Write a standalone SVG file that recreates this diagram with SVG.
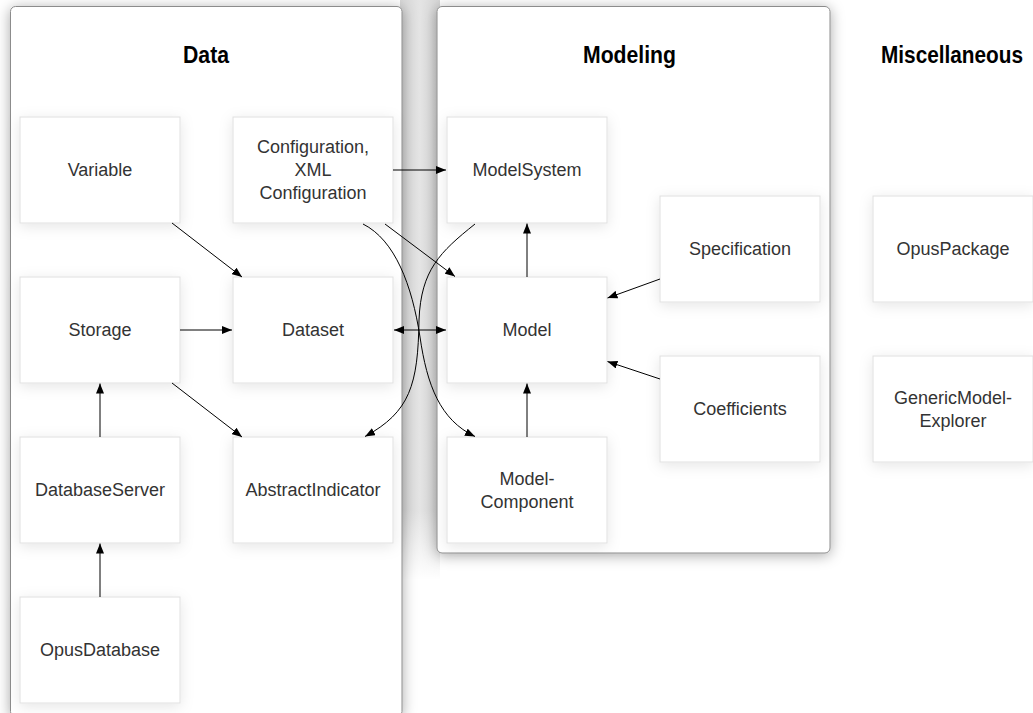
<svg xmlns="http://www.w3.org/2000/svg" width="1033" height="713" viewBox="0 0 1033 713">
  <defs>
    <filter id="panelShadow" x="-20%" y="-20%" width="140%" height="140%">
      <feDropShadow dx="0" dy="2" stdDeviation="7" flood-color="#000" flood-opacity="0.34"/>
    </filter>
    <filter id="boxShadow" x="-20%" y="-20%" width="140%" height="140%">
      <feDropShadow dx="0" dy="3" stdDeviation="7" flood-color="#000" flood-opacity="0.10"/>
    </filter>
    <linearGradient id="gapShade" x1="0" y1="0" x2="1" y2="0">
      <stop offset="0" stop-color="#d6d6d6"/>
      <stop offset="0.5" stop-color="#e4e4e4"/>
      <stop offset="1" stop-color="#d6d6d6"/>
    </linearGradient>
    <linearGradient id="gapFade" x1="0" y1="0" x2="0" y2="1">
      <stop offset="0" stop-color="#fff" stop-opacity="0"/>
      <stop offset="0.88" stop-color="#fff" stop-opacity="0"/>
      <stop offset="1" stop-color="#fff" stop-opacity="1"/>
    </linearGradient>
    <marker id="arrow" viewBox="0 0 10 8" refX="10" refY="4" markerWidth="10" markerHeight="8" markerUnits="userSpaceOnUse" orient="auto-start-reverse">
      <path d="M0,0 L10,4 L0,8 z" fill="#000"/>
    </marker>
    <style>
      .panel { fill: #fff; stroke: #8c8c8c; stroke-width: 1; filter: url(#panelShadow); }
      .box { fill: #fff; stroke: #e0e0e0; stroke-width: 1; filter: url(#boxShadow); }
      .title { font-family: "Liberation Sans", Arial, sans-serif; font-weight: bold; font-size: 23.5px; fill: #000; text-anchor: middle; }
      .label { font-family: "Liberation Sans", Arial, sans-serif; font-size: 18px; fill: #333; text-anchor: middle; }
      .edge { fill: none; stroke: #000; stroke-width: 1; marker-end: url(#arrow); }
      .both { marker-start: url(#arrow); }
    </style>
  </defs>

  <rect width="1033" height="713" fill="#fff"/>

  <!-- shaded channel between the two panels -->
  <rect x="400" y="0" width="40" height="580" fill="url(#gapShade)"/>
  <rect x="400" y="0" width="40" height="580" fill="url(#gapFade)"/>

  <!-- group panels -->
  <g id="panels">
    <rect id="panel-data" class="panel" x="10.5" y="6.5" width="391.5" height="710" rx="5"/>
    <rect id="panel-modeling" class="panel" x="437" y="6.5" width="393" height="546.5" rx="5"/>
  </g>

  <!-- section titles -->
  <g id="titles">
    <text class="title" x="206" y="63" textLength="46" lengthAdjust="spacingAndGlyphs">Data</text>
    <text class="title" x="629.5" y="63" textLength="93" lengthAdjust="spacingAndGlyphs">Modeling</text>
    <text class="title" x="952" y="62.5" textLength="142" lengthAdjust="spacingAndGlyphs">Miscellaneous</text>
  </g>

  <!-- Data column -->
  <g id="node-variable">
    <rect class="box" x="20" y="117" width="160" height="106"/>
    <text class="label" x="100" y="176">Variable</text>
  </g>
  <g id="node-configuration">
    <rect class="box" x="233" y="117" width="160" height="106"/>
    <text class="label" x="313" y="153">Configuration,</text>
    <text class="label" x="313" y="176">XML</text>
    <text class="label" x="313" y="199">Configuration</text>
  </g>
  <g id="node-storage">
    <rect class="box" x="20" y="277" width="160" height="106"/>
    <text class="label" x="100" y="336">Storage</text>
  </g>
  <g id="node-dataset">
    <rect class="box" x="233" y="277" width="160" height="106"/>
    <text class="label" x="313" y="336">Dataset</text>
  </g>
  <g id="node-databaseserver">
    <rect class="box" x="20" y="437" width="160" height="106"/>
    <text class="label" x="100" y="496">DatabaseServer</text>
  </g>
  <g id="node-abstractindicator">
    <rect class="box" x="233" y="437" width="160" height="106"/>
    <text class="label" x="313" y="496">AbstractIndicator</text>
  </g>
  <g id="node-opusdatabase">
    <rect class="box" x="20" y="597" width="160" height="106"/>
    <text class="label" x="100" y="656">OpusDatabase</text>
  </g>

  <!-- Modeling column -->
  <g id="node-modelsystem">
    <rect class="box" x="447" y="117" width="160" height="106"/>
    <text class="label" x="527" y="176">ModelSystem</text>
  </g>
  <g id="node-model">
    <rect class="box" x="447" y="277" width="160" height="106"/>
    <text class="label" x="527" y="336">Model</text>
  </g>
  <g id="node-modelcomponent">
    <rect class="box" x="447" y="437" width="160" height="106"/>
    <text class="label" x="527" y="484.5">Model-</text>
    <text class="label" x="527" y="508">Component</text>
  </g>
  <g id="node-specification">
    <rect class="box" x="660" y="196" width="160" height="106"/>
    <text class="label" x="740" y="255">Specification</text>
  </g>
  <g id="node-coefficients">
    <rect class="box" x="660" y="356" width="160" height="106"/>
    <text class="label" x="740" y="415">Coefficients</text>
  </g>

  <!-- Miscellaneous column -->
  <g id="node-opuspackage">
    <rect class="box" x="873" y="196" width="160" height="106"/>
    <text class="label" x="953" y="255">OpusPackage</text>
  </g>
  <g id="node-genericmodelexplorer">
    <rect class="box" x="873" y="356" width="160" height="106"/>
    <text class="label" x="953" y="403.5">GenericModel-</text>
    <text class="label" x="953" y="427">Explorer</text>
  </g>

  <!-- connectors -->
  <g id="connectors">
    <path class="edge" d="M172,223 L242,277"/>
    <path class="edge" d="M180,330 L232,330"/>
    <path class="edge" d="M172,383 L242,437"/>
    <path class="edge" d="M100,437 L100,383.5"/>
    <path class="edge" d="M100,597 L100,543.5"/>
    <path class="edge" d="M393,170 L446,170"/>
    <path class="edge" d="M385,224 L455,276.5"/>
    <path class="edge" d="M363,224 C395,240 412,285 420,337 C427,385 440,420 475,436.5"/>
    <path class="edge" d="M475,224 C440,252 421,270 419,320 C418,385 410,412 365,436.5"/>
    <path class="edge both" d="M394,330 L446,330"/>
    <path class="edge" d="M527,277 L527,223.5"/>
    <path class="edge" d="M527,437 L527,383.5"/>
    <path class="edge" d="M660,279 L607.5,298"/>
    <path class="edge" d="M660,379 L607.5,361.5"/>
  </g>
</svg>
